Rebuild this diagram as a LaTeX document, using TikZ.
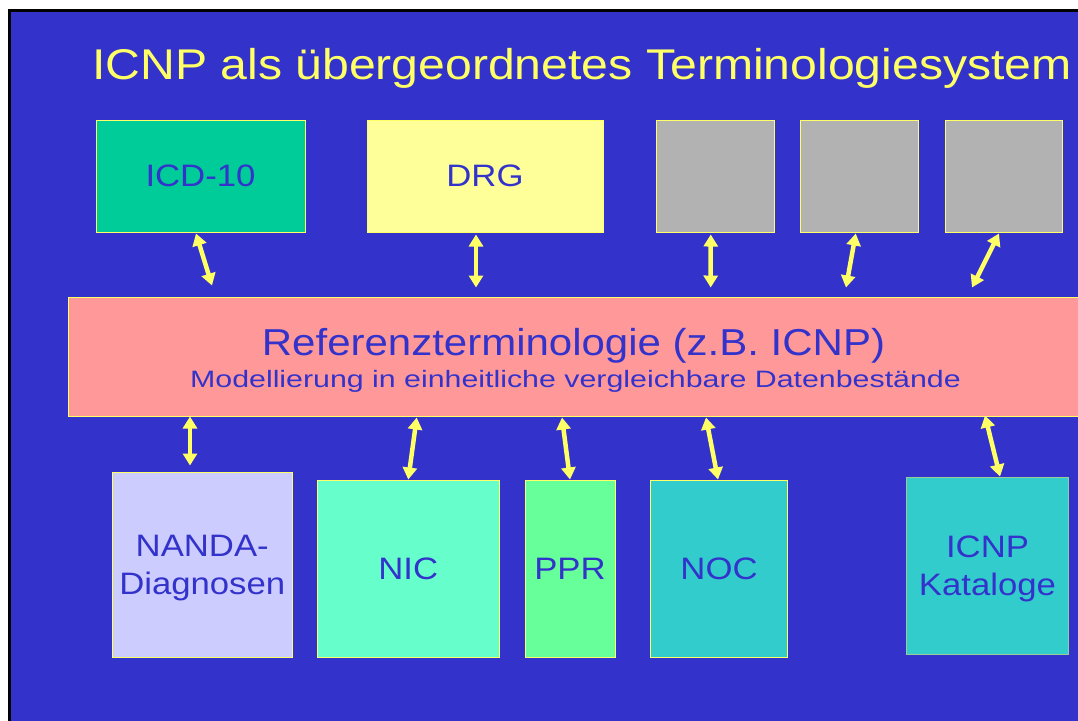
\documentclass[tikz,border=0pt]{standalone}
\usepackage{fontspec}
\setmainfont{Liberation Sans}[FakeStretch=1.12]
\newfontfamily\subfont{Liberation Sans}[FakeStretch=1.28]
\usetikzlibrary{arrows.meta}
\definecolor{slideblue}{HTML}{3333CC}
\definecolor{slideyellow}{HTML}{FFFF66}
\definecolor{icdgreen}{HTML}{00CC99}
\definecolor{drgyellow}{HTML}{FFFF99}
\definecolor{emptygray}{HTML}{B2B2B2}
\definecolor{refpink}{HTML}{FF9999}
\definecolor{nandalila}{HTML}{CCCCFF}
\definecolor{nicmint}{HTML}{66FFCC}
\definecolor{pprgreen}{HTML}{66FF99}
\definecolor{nocteal}{HTML}{33CCCC}
\definecolor{katedge}{HTML}{99CC99}
\begin{document}
\begin{tikzpicture}[x=1pt,y=-1pt,
  termbox/.style={draw=slideyellow, line width=1pt, inner sep=0pt, text=slideblue,
    font=\fontsize{31}{38}\selectfont, align=center},
  link/.style={draw=slideyellow, line width=4.5pt,
    {Triangle[width=14pt,length=12pt]}-{Triangle[width=14pt,length=12pt]}}]

\useasboundingbox (0,0) rectangle (1078,720);
\fill[white] (0,0) rectangle (1078,720);
\draw[black, line width=3pt, fill=slideblue] (9,10.5) rectangle (1095,740);

\node[anchor=base, text=slideyellow, font=\fontsize{43}{50}\selectfont] (title) at (582,79.3)
  {ICNP als übergeordnetes Terminologiesystem};

\node[termbox, fill=icdgreen, minimum width=209pt, minimum height=111.5pt] (icd) at (200.5,176.25) {ICD-10};
\node[termbox, fill=drgyellow, minimum width=236pt, minimum height=111.5pt] (drg) at (485,176.25) {DRG};
\foreach \gx/\gn in {715.25/grayA, 859.35/grayB, 1004/grayC}{
\node[termbox, fill=emptygray, minimum width=117.5pt, minimum height=111.5pt] (\gn) at (\gx,176.25) {};
}

\node[termbox, fill=refpink, minimum width=1012pt, minimum height=119pt] (ref) at (574,356.5) {};
\node[anchor=base, text=slideblue, font=\fontsize{37.5}{44}\selectfont] (reftext) at (573.5,355)
  {Referenzterminologie (z.B. ICNP)};
\node[anchor=base, text=slideblue, font=\subfont\fontsize{23.7}{28}\selectfont] (refsub) at (575.5,387)
  {Modellierung in einheitliche vergleichbare Datenbestände};

\node[termbox, fill=nandalila, text depth=0pt, minimum width=180.5pt, minimum height=185pt] (nanda) at (202.25,564.5) {NANDA-\\Diagnosen};
\node[termbox, fill=nicmint, minimum width=181.5pt, minimum height=177pt] (nic) at (408.25,568.5) {NIC};
\node[termbox, fill=pprgreen, minimum width=90pt, minimum height=177pt] (ppr) at (570,568.5) {PPR};
\node[termbox, fill=nocteal, minimum width=137pt, minimum height=177pt] (noc) at (719,568.5) {NOC};
\node[termbox, fill=nocteal, draw=katedge, text depth=0pt, minimum width=162pt, minimum height=177pt] (icnp) at (987.5,565.5) {ICNP\\Kataloge};

\begin{scope}[link]
\draw ([xshift=-4.5pt,yshift=-1pt]icd.south) -- ([xshift=-362pt,yshift=11pt]ref.north);
\draw ([xshift=-9pt,yshift=-2pt]drg.south) -- ([xshift=-98pt,yshift=9pt]ref.north);
\draw ([xshift=-4.5pt,yshift=-2pt]grayA.south) -- ([xshift=136.7pt,yshift=9pt]ref.north);
\draw ([xshift=-3.6pt,yshift=-1pt]grayB.south) -- ([xshift=272pt,yshift=9pt]ref.north);
\draw ([xshift=-5pt,yshift=-1pt]grayC.south) -- ([xshift=398pt,yshift=9pt]ref.north);

\draw ([xshift=-384pt]ref.south) -- ([xshift=-12.25pt,yshift=6pt]nanda.north);
\draw ([xshift=-157.3pt,yshift=-1pt]ref.south) -- (nic.north);
\draw ([xshift=-12pt,yshift=-1pt]ref.south) -- (ppr.north);
\draw ([xshift=132pt,yshift=-1pt]ref.south) -- ([xshift=-1pt]noc.north);
\draw ([xshift=411pt,yshift=1pt]ref.south) -- ([xshift=12.5pt]icnp.north);
\end{scope}
\end{tikzpicture}
\end{document}
